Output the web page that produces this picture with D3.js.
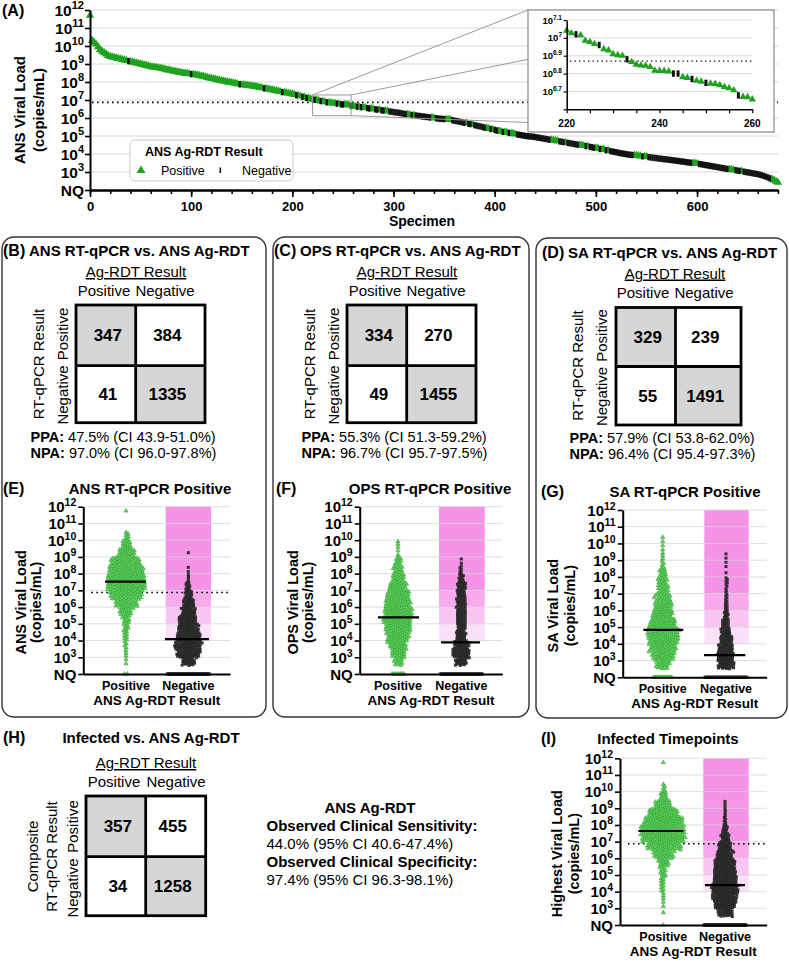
<!DOCTYPE html>
<html><head><meta charset="utf-8">
<script src="https://cdn.jsdelivr.net/npm/d3@7"></script>
<style>
body{margin:0;background:#fff}
svg{display:block}
text{font-family:"Liberation Sans",Arial,Helvetica,sans-serif;white-space:pre}
</style>
</head><body>
<svg id="c" width="789" height="962"></svg>
<script>
// ================= DATA =================
// Panel A: log10 ANS viral load of sorted specimens, sampled every 2nd specimen (0..680)
const specimenStep = 2;
const ansLoadLog = [
11.7,10.3,10.2,10.1,9.95,9.8,9.7,9.62,9.55,9.47,
9.41,9.38,9.36,9.33,9.3,9.28,9.25,9.22,9.19,9.16,
9.13,9.1,9.08,9.05,9.03,9.0,8.97,8.94,8.91,8.88,
8.85,8.83,8.81,8.8,8.78,8.76,8.73,8.71,8.68,8.66,
8.63,8.61,8.59,8.56,8.54,8.52,8.5,8.49,8.47,8.45,
8.44,8.42,8.4,8.38,8.36,8.33,8.31,8.28,8.25,8.22,
8.2,8.17,8.15,8.12,8.09,8.07,8.05,8.03,8.0,7.98,
7.96,7.94,7.92,7.89,7.87,7.85,7.84,7.82,7.81,7.79,
7.78,7.76,7.74,7.72,7.69,7.67,7.65,7.63,7.61,7.58,
7.56,7.54,7.51,7.49,7.46,7.44,7.42,7.4,7.37,7.35,
7.33,7.3,7.27,7.24,7.21,7.18,7.15,7.12,7.09,7.06,
7.04,7.02,6.99,6.97,6.94,6.91,6.9,6.87,6.85,6.84,
6.82,6.81,6.8,6.78,6.76,6.75,6.74,6.73,6.71,6.67,
6.66,6.64,6.63,6.61,6.6,6.58,6.56,6.55,6.53,6.52,
6.5,6.48,6.47,6.45,6.43,6.42,6.4,6.38,6.36,6.35,
6.33,6.31,6.3,6.28,6.26,6.24,6.22,6.2,6.18,6.17,
6.15,6.14,6.12,6.11,6.09,6.08,6.06,6.05,6.03,6.02,
6.0,5.99,5.97,5.96,5.95,5.94,5.93,5.92,5.91,5.88,
5.85,5.83,5.81,5.78,5.76,5.73,5.71,5.68,5.66,5.63,
5.6,5.58,5.55,5.53,5.5,5.47,5.44,5.41,5.39,5.36,
5.34,5.31,5.27,5.25,5.23,5.21,5.19,5.17,5.15,5.13,
5.11,5.09,5.07,5.05,5.03,5.01,4.99,4.98,4.97,4.96,
4.94,4.92,4.9,4.88,4.86,4.84,4.82,4.8,4.78,4.76,
4.74,4.72,4.7,4.68,4.66,4.64,4.62,4.6,4.58,4.56,
4.54,4.52,4.5,4.48,4.46,4.44,4.42,4.4,4.38,4.35,
4.33,4.31,4.28,4.26,4.24,4.21,4.19,4.17,4.14,4.12,
4.1,4.07,4.05,4.03,4.01,3.99,3.97,3.96,3.94,3.93,
3.92,3.9,3.89,3.87,3.86,3.84,3.83,3.81,3.8,3.78,
3.77,3.75,3.74,3.72,3.71,3.7,3.68,3.67,3.65,3.64,
3.62,3.61,3.59,3.58,3.56,3.54,3.53,3.51,3.5,3.48,
3.47,3.45,3.43,3.41,3.39,3.37,3.35,3.33,3.31,3.29,
3.27,3.25,3.23,3.21,3.19,3.17,3.15,3.13,3.11,3.1,
3.08,3.06,3.04,3.02,3.0,2.98,2.96,2.94,2.92,2.9,
2.88,2.85,2.82,2.78,2.74,2.7,2.65,2.6,2.55,2.48,
2.42];
// Ag-RDT result for each sample above (P = positive, N = negative)
const ansResult =
"PPPPPPPPPP"+"PPPPPPPPPN"+"PPPPPPPPPP"+"PPPPPPPPPP"+"PPPPPPPPPP"+
"NPPPPPPPPP"+"PPPPPPPPPP"+"PPPPNPPPPP"+"PPPPPPNPPP"+"PPPPPNPPPP"+
"PPNPPNPNPP"+"PNPPNPPNPP"+"PPNPNNPPPN"+"PPNPNPPNNP"+"PNNPNNPPNN"+
"NNNNNNNPPN"+"PNNNNNNNNP"+"PNNNNNPPPN"+"NNNNNNPNNP"+"NNNNNNPPNP"+
"NNPPNPPNPP"+"PNNNNNNNNN"+"NNNNNNNNPP"+"PPNNNPNNNN"+"NNPPPNPNNN"+
"PPNPPNPNNN"+"NNNNNNNNNP"+"PPPNPPNNNN"+"NNNNNNNNNN"+"NNNNNNNNPP"+
"PNNNNNNNNN"+"NNNNNNPPPN"+"NNPNNNNNNN"+"NNNNNNNPPP"+"P";

// Inset: specimens 220..260, every specimen
const insetFirst = 220;
const insetLoadLog = [7.041,7.026,7.02,7.015,6.985,6.977,6.966,6.96,6.937,6.93,
6.909,6.904,6.9,6.88,6.865,6.85,6.846,6.844,6.837,6.817,
6.815,6.815,6.813,6.8,6.8,6.78,6.776,6.77,6.76,6.755,
6.748,6.744,6.743,6.736,6.725,6.718,6.707,6.678,6.67,6.668,6.656];
const insetResult = "PPNPPPPNPPPPPNPPPPPPPPPNNPPNPPNPPPPPPNPPP";

const decadeExps = [3,4,5,6,7,8,9,10,11,12];
const xMajorTicksA = [0,100,200,300,400,500,600];
const insetYTicks = [6.7,6.8,6.9,7.0,7.1];
const insetYLabels = ["6.7","6.8","6.9","7","7.1"];
const insetXTicks = [220,240,260];
const thresholdLog = 6.87;
const nqLog = 2;

// Scatter panels: counts per half-decade bin (bins start at these log10 values) + NQ counts
const binStarts = [2.5,3,3.5,4,4.5,5,5.5,6,6.5,7,7.5,8,8.5,9,9.5,10,10.5,11,11.5];
const ePosCounts = [2,3,4,6,7,10,17,28,42,52,50,45,38,22,12,6,0,0,1];
const ePosNQ = 2;
const eNegCounts = [25,45,50,45,38,33,27,21,14,9,4,2,0,1,0,0,0,0,0];
const eNegNQ = 70;
const fPosCounts = [12,20,24,30,34,38,38,34,30,24,16,12,9,2,3,0,0,0,0];
const fPosNQ = 8;
const fNegCounts = [22,32,28,20,16,17,18,17,16,17,10,5,2,0,0,0,0,0,0];
const fNegNQ = 50;
const gPosCounts = [18,28,34,40,42,36,28,24,20,14,12,10,4,3,2,2,0,0,0];
const gPosNQ = 12;
const gNegCounts = [32,32,28,22,18,13,9,6,5,4,5,1,2,2,0,0,0,0,0];
const gNegNQ = 60;
const iPosCounts = [1,2,3,5,6,8,14,26,44,60,58,52,40,22,10,4,0,0,1];
const iPosNQ = 1;
const iNegCounts = [28,42,48,50,45,42,38,30,24,16,10,5,4,3,0,0,0,0,0];
const iNegNQ = 70;
const posMedians = [7.52, 5.39, 4.83, 7.64];   // E, F, G, I
const negMedians = [4.09, 3.89, 3.33, 4.39];

// 2x2 tables [TP, FN, FP, TN]
const tableB = [347,384,41,1335];
const tableC = [334,270,49,1455];
const tableD = [329,239,55,1491];
const tableH = [357,455,34,1258];
const ppaTexts = ["47.5% (CI 43.9-51.0%)","55.3% (CI 51.3-59.2%)","57.9% (CI 53.8-62.0%)"];
const npaTexts = ["97.0% (CI 96.0-97.8%)","96.7% (CI 95.7-97.5%)","96.4% (CI 95.4-97.3%)"];
const sensText = "44.0% (95% CI 40.6-47.4%)";
const specText = "97.4% (95% CI 96.3-98.1%)";

// ================= DRAWING =================
const svg = d3.select("#c");
const GREEN_A = "#1fa31f";
const GREEN_S = "#62d462";

function T(p, x, y, s, o = {}) {
  const t = p.append("text").text(s)
    .attr("font-size", o.size || 15)
    .attr("font-weight", o.bold ? "bold" : "normal")
    .attr("text-anchor", o.anchor || "start")
    .attr("fill", "#000");
  if (o.rotate) t.attr("transform", `translate(${x},${y}) rotate(-90)`);
  else t.attr("x", x).attr("y", y);
  if (o.underline) t.attr("text-decoration", "underline");
  return t;
}
function powLabel(p, x, y, exp, size, sup, dy) {
  const t = p.append("text").attr("x", x).attr("y", y).attr("text-anchor", "end")
    .attr("font-weight", "bold").attr("font-size", size);
  t.append("tspan").text("10");
  t.append("tspan").attr("font-size", sup).attr("dy", -dy).text(exp);
  return t;
}
function styleAxis(a, w) {
  a.select(".domain").attr("stroke", "#000").attr("stroke-width", w);
  a.selectAll(".tick line").attr("stroke", "#000").attr("stroke-width", w * 0.8);
}

// ---------- Panel A ----------
const gA = svg.append("g");
const xA = d3.scaleLinear().domain([0, 680]).range([90, 778]);
const yA = d3.scaleLinear().domain([2, 12]).range([190, 10]);
gA.selectAll(".ga").data(decadeExps).join("line")
  .attr("x1", 90).attr("x2", 778).attr("y1", d => yA(d)).attr("y2", d => yA(d))
  .attr("stroke", "#d9d9d9").attr("stroke-width", 1);
gA.append("line").attr("x1", 92).attr("x2", 778).attr("y1", yA(thresholdLog)).attr("y2", yA(thresholdLog))
  .attr("stroke", "#000").attr("stroke-width", 1.6).attr("stroke-dasharray", "1.6,3.4");

const ptsA = ansLoadLog.map((v, i) => ({ s: i * specimenStep, v, r: ansResult[i] }));
gA.selectAll(".pa").data(ptsA.filter(d => d.r === "P")).join("path")
  .attr("d", d3.symbol(d3.symbolTriangle, 30))
  .attr("transform", d => `translate(${xA(d.s)},${yA(d.v)})`)
  .attr("fill", GREEN_A);
gA.selectAll(".na").data(ptsA.filter(d => d.r === "N")).join("rect")
  .attr("x", d => xA(d.s) - 1.2).attr("y", d => yA(d.v) - 3.2)
  .attr("width", 2.4).attr("height", 6.4).attr("fill", "#111");

// axes A
const ayA = gA.append("g").attr("transform", "translate(90,0)")
  .call(d3.axisLeft(yA).tickValues([nqLog, ...decadeExps]).tickSize(5).tickSizeOuter(0).tickFormat(""));
styleAxis(ayA, 2);
decadeExps.forEach(e => powLabel(gA, 84, yA(e) + 5.5, e, 15.5, 11, 6.5));
T(gA, 84, yA(nqLog) + 5.5, "NQ", { size: 15.5, bold: true, anchor: "end" });
const axA = gA.append("g").attr("transform", "translate(0,190)")
  .call(d3.axisBottom(xA).tickValues(xMajorTicksA).tickSize(7).tickPadding(5).tickSizeOuter(0));
axA.attr("font-size", 13).attr("font-weight", "bold").attr("font-family", '"Liberation Sans",Arial,sans-serif');
styleAxis(axA, 2);
const axA2 = gA.append("g").attr("transform", "translate(0,190)")
  .call(d3.axisBottom(xA).tickValues(d3.range(0, 681, 20)).tickSize(4).tickFormat("").tickSizeOuter(0));
styleAxis(axA2, 2);
T(gA, 422, 226, "Specimen", { size: 14, bold: true, anchor: "middle" });
T(gA, 25, 110, "ANS Viral Load", { size: 15, bold: true, anchor: "middle", rotate: true });
T(gA, 44, 110, "(copies/mL)", { size: 15, bold: true, anchor: "middle", rotate: true });
T(gA, 2, 16, "(A)", { size: 16, bold: true });

// legend
gA.append("rect").attr("x", 130).attr("y", 140).attr("width", 163).attr("height", 41).attr("rx", 5)
  .attr("fill", "#fff").attr("stroke", "#c8c8c8");
T(gA, 145, 156, "ANS Ag-RDT Result", { size: 12.5, bold: true });
gA.append("path").attr("d", d3.symbol(d3.symbolTriangle, 34)).attr("transform", "translate(141,170.5)").attr("fill", GREEN_A);
T(gA, 161, 175, "Positive", { size: 12.5 });
gA.append("rect").attr("x", 219.5).attr("y", 167.5).attr("width", 1.6).attr("height", 5.5).attr("fill", "#111");
T(gA, 242, 175, "Negative", { size: 12.5 });

// zoom box + connectors
const zx0 = xA(220), zx1 = xA(258), zy0 = yA(7.28), zy1 = yA(6.13);
const inset = { x0: 528, y0: 10, x1: 774, y1: 132 };
[[zx0, zy0, inset.x0, inset.y0], [zx1, zy0, inset.x1, inset.y0], [zx1, zy1, inset.x1, inset.y1]].forEach(l =>
  gA.append("line").attr("x1", l[0]).attr("y1", l[1]).attr("x2", l[2]).attr("y2", l[3]).attr("stroke", "#9a9a9a").attr("stroke-width", 1));
gA.append("rect").attr("x", zx0).attr("y", zy0).attr("width", zx1 - zx0).attr("height", zy1 - zy0)
  .attr("fill", "none").attr("stroke", "#9a9a9a").attr("stroke-width", 1);

// inset
const gI = svg.append("g");
gI.append("rect").attr("x", inset.x0).attr("y", inset.y0).attr("width", inset.x1 - inset.x0).attr("height", inset.y1 - inset.y0)
  .attr("fill", "#fff").attr("stroke", "#8a8a8a").attr("stroke-width", 1.2);
const xIn = d3.scaleLinear().domain([220, 260]).range([566.7, 752.3]);
const yIn = d3.scaleLinear().domain([6.6, 7.1]).range([109.3, 20]);
gI.selectAll(".gi").data(insetYTicks).join("line")
  .attr("x1", 566.7).attr("x2", 752).attr("y1", d => yIn(d)).attr("y2", d => yIn(d))
  .attr("stroke", "#dcdcdc");
gI.append("line").attr("x1", 570).attr("x2", 752).attr("y1", yIn(thresholdLog)).attr("y2", yIn(thresholdLog))
  .attr("stroke", "#000").attr("stroke-width", 1.3).attr("stroke-dasharray", "1.3,3.2");
const ptsIn = insetLoadLog.map((v, i) => ({ s: insetFirst + i, v, r: insetResult[i] }));
gI.selectAll(".pi").data(ptsIn.filter(d => d.r === "P")).join("path")
  .attr("d", d3.symbol(d3.symbolTriangle, 24))
  .attr("transform", d => `translate(${xIn(d.s)},${yIn(d.v)})`).attr("fill", GREEN_A);
gI.selectAll(".ni").data(ptsIn.filter(d => d.r === "N")).join("rect")
  .attr("x", d => xIn(d.s) - 1.5).attr("y", d => yIn(d.v) - 3.2).attr("width", 3).attr("height", 6.4).attr("fill", "#111");
const ayI = gI.append("g").attr("transform", "translate(566.7,0)")
  .call(d3.axisLeft(yIn).tickValues([6.6, ...insetYTicks]).tickSize(3).tickFormat("").tickSizeOuter(0));
styleAxis(ayI, 1.5);
insetYTicks.forEach((t, i) => powLabel(gI, 562, yIn(t) + 3.5, insetYLabels[i], 9.5, 6.5, 4));
const axI = gI.append("g").attr("transform", "translate(0,109.3)")
  .call(d3.axisBottom(xIn).tickValues(d3.range(220, 261, 5)).tickSize(4).tickFormat("").tickSizeOuter(0));
styleAxis(axI, 1.5);
insetXTicks.forEach(t => T(gI, xIn(t), 127, String(t), { size: 10, bold: true, anchor: "middle" }));

// ---------- boxes B, C, D ----------
[[2, 237, 266, 717], [273, 237, 529, 717], [536, 238, 787, 718]].forEach(b =>
  svg.append("rect").attr("x", b[0]).attr("y", b[1]).attr("width", b[2] - b[0]).attr("height", b[3] - b[1])
    .attr("rx", 12).attr("fill", "none").attr("stroke", "#333").attr("stroke-width", 1.4));

function drawTable(g, x0, y0, xm, ym, x1, y1, nums) {
  g.append("rect").attr("x", x0).attr("y", y0).attr("width", xm - x0).attr("height", ym - y0).attr("fill", "#d6d6d6");
  g.append("rect").attr("x", xm).attr("y", ym).attr("width", x1 - xm).attr("height", y1 - ym).attr("fill", "#d6d6d6");
  g.append("rect").attr("x", x0).attr("y", y0).attr("width", x1 - x0).attr("height", y1 - y0)
    .attr("fill", "none").attr("stroke", "#000").attr("stroke-width", 2.8);
  g.append("line").attr("x1", xm).attr("x2", xm).attr("y1", y0).attr("y2", y1).attr("stroke", "#000").attr("stroke-width", 2.8);
  g.append("line").attr("x1", x0).attr("x2", x1).attr("y1", ym).attr("y2", ym).attr("stroke", "#000").attr("stroke-width", 2.8);
  const c1 = (x0 + xm) / 2 + 2, c2 = (xm + x1) / 2 - 3;
  const r1 = (y0 + ym) / 2 + 6, r2 = (ym + y1) / 2 + 6;
  [[c1, r1], [c2, r1], [c1, r2], [c2, r2]].forEach((p, i) =>
    T(g, p[0], p[1], String(nums[i]), { size: 17, bold: true, anchor: "middle" }));
}

const contPanels = [
  { dx: 0, dy: 0, letter: "(B)", title: "ANS RT-qPCR vs. ANS Ag-RDT", tab: [76, 305, 135.7, 365.7, 205, 422.7], nums: tableB },
  { dx: 271, dy: 0, letter: "(C)", title: "OPS RT-qPCR vs. ANS Ag-RDT", tab: [347, 305, 406.7, 365.7, 476, 422.7], nums: tableC },
  { dx: 539, dy: 1.5, letter: "(D)", title: "SA RT-qPCR vs. ANS Ag-RDT", tab: [616, 307.5, 675.5, 366.5, 741, 425], nums: tableD }
];
contPanels.forEach((p, k) => {
  const g = svg.append("g");
  T(g, 3 + p.dx, 256 + p.dy, p.letter, { size: 16, bold: true });
  T(g, 29 + p.dx, 256 + p.dy, p.title, { size: 15, bold: true });
  T(g, 136 + p.dx, 277 + p.dy, "Ag-RDT Result", { size: 15, anchor: "middle", underline: true });
  T(g, 104 + p.dx, 296 + p.dy, "Positive", { size: 15, anchor: "middle" });
  T(g, 165 + p.dx, 296 + p.dy, "Negative", { size: 15, anchor: "middle" });
  T(g, 44 + p.dx, 364 + p.dy, "RT-qPCR Result", { size: 15, anchor: "middle", rotate: true });
  T(g, 67.5 + p.dx, 334 + p.dy, "Positive", { size: 15, anchor: "middle", rotate: true });
  T(g, 67.5 + p.dx, 395 + p.dy, "Negative", { size: 15, anchor: "middle", rotate: true });
  drawTable(g, ...p.tab, p.nums);
  const t1 = g.append("text").attr("x", 30.5 + p.dx).attr("y", 441.5 + p.dy).attr("font-size", 14.5);
  t1.append("tspan").attr("font-weight", "bold").text("PPA:");
  t1.append("tspan").text(" " + ppaTexts[k]);
  const t2 = g.append("text").attr("x", 30.5 + p.dx).attr("y", 457.5 + p.dy).attr("font-size", 14.5);
  t2.append("tspan").attr("font-weight", "bold").text("NPA:");
  t2.append("tspan").text(" " + npaTexts[k]);
});

// ---------- Panel H ----------
const gH = svg.append("g");
T(gH, 3, 743, "(H)", { size: 16, bold: true });
T(gH, 151, 743, "Infected vs. ANS Ag-RDT", { size: 15, bold: true, anchor: "middle" });
T(gH, 146, 768, "Ag-RDT Result", { size: 15, anchor: "middle", underline: true });
T(gH, 114, 786.5, "Positive", { size: 15, anchor: "middle" });
T(gH, 176, 786.5, "Negative", { size: 15, anchor: "middle" });
T(gH, 38, 856.5, "Composite", { size: 15, anchor: "middle", rotate: true });
T(gH, 57, 856.5, "RT-qPCR Result", { size: 15, anchor: "middle", rotate: true });
T(gH, 77.5, 826.5, "Positive", { size: 15, anchor: "middle", rotate: true });
T(gH, 77.5, 888, "Negative", { size: 15, anchor: "middle", rotate: true });
drawTable(gH, 86, 796, 145.7, 856.7, 205.7, 915.7, tableH);
T(gH, 370, 812.5, "ANS Ag-RDT", { size: 15, bold: true, anchor: "middle" });
T(gH, 266.5, 830.5, "Observed Clinical Sensitivity:", { size: 15, bold: true });
T(gH, 266.5, 849, sensText, { size: 15 });
T(gH, 266.5, 866.5, "Observed Clinical Specificity:", { size: 15, bold: true });
T(gH, 266.5, 885, specText, { size: 15 });

// ---------- Scatter panels E, F, G, I ----------
function binValues(counts) {
  const vals = [];
  counts.forEach((n, k) => { for (let i = 0; i < n; i++) vals.push(binStarts[k] + (i + 0.5) * 0.5 / n); });
  return vals;
}
function swarmX(ys, d) {
  const placed = [], out = [];
  ys.forEach((y, idx) => {
    const iv = [];
    for (let j = placed.length - 1; j >= 0; j--) {
      const dy = y - placed[j].y;
      if (dy >= d) break;
      const h = Math.sqrt(d * d - dy * dy);
      iv.push([placed[j].x - h, placed[j].x + h]);
    }
    const cands = [0];
    iv.forEach(([a, b]) => cands.push(a, b));
    cands.sort((p, q) => Math.abs(p) - Math.abs(q) || (idx % 2 ? p - q : q - p));
    let x = 0;
    for (const c of cands) { if (!iv.some(([a, b]) => c > a + 1e-6 && c < b - 1e-6)) { x = c; break; } }
    placed.push({ x, y }); out.push(x);
  });
  return out;
}
const bands = [[12, 7, "#f594e7"], [7, 6, "#f7abed"], [6, 5, "#f9c6f3"], [5, 4, "#fce0f9"]];

const scatterPanels = [
  { letter: "(E)", lx: 3, title: "ANS RT-qPCR Positive", tx: 150, ty: 494, axisX: 83.3, yTop: 506.7, yNQ: 674, posX: 126, negX: 188.3, xEnd: 230,
    r0: 165.7, r1: 211, mp: [105, 146], mn: [165, 209], t1: 19.5, t2: 34.5, ylab: "ANS Viral Load", dotted: true,
    pos: ePosCounts, posNQ: ePosNQ, neg: eNegCounts, negNQ: eNegNQ },
  { letter: "(F)", lx: 276, title: "OPS RT-qPCR Positive", tx: 430, ty: 494, axisX: 359.7, yTop: 506.7, yNQ: 674, posX: 398, negX: 461.3, xEnd: 502.3,
    r0: 439, r1: 484.7, mp: [378, 419], mn: [441, 480], t1: 292, t2: 307, ylab: "OPS Viral Load", dotted: false,
    pos: fPosCounts, posNQ: fPosNQ, neg: fNegCounts, negNQ: fNegNQ },
  { letter: "(G)", lx: 541, title: "SA RT-qPCR Positive", tx: 685, ty: 497, axisX: 622.7, yTop: 510, yNQ: 677.3, posX: 662.7, negX: 726, xEnd: 766.7,
    r0: 704.3, r1: 748.7, mp: [643.3, 683.3], mn: [704, 745.3], t1: 552, t2: 569, ylab: "SA Viral Load", dotted: false,
    pos: gPosCounts, posNQ: gPosNQ, neg: gNegCounts, negNQ: gNegNQ },
  { letter: "(I)", lx: 541, title: "Infected Timepoints", tx: 668, ty: 744, axisX: 620, yTop: 758.3, yNQ: 925, posX: 663.3, negX: 725, xEnd: 766.7,
    r0: 703.3, r1: 748.7, mp: [638.3, 683.3], mn: [705, 745], t1: 556, t2: 573, ylab: "Highest Viral Load", dotted: true,
    pos: iPosCounts, posNQ: iPosNQ, neg: iNegCounts, negNQ: iNegNQ }
];

scatterPanels.forEach((p, k) => {
  const g = svg.append("g");
  const y = d3.scaleLinear().domain([nqLog, 12]).range([p.yNQ, p.yTop]);
  const x = d3.scaleLinear().domain([0, 1]).range([p.axisX, p.xEnd]);
  T(g, p.lx, p.ty, p.letter, { size: 16, bold: true });
  T(g, p.tx, p.ty, p.title, { size: 15, bold: true, anchor: "middle" });
  bands.forEach(b => g.append("rect").attr("x", p.r0).attr("width", p.r1 - p.r0)
    .attr("y", y(b[0])).attr("height", y(b[1]) - y(b[0])).attr("fill", b[2]));
  g.selectAll(".gl").data(decadeExps).join("line")
    .attr("x1", p.axisX).attr("x2", p.xEnd).attr("y1", d => y(d)).attr("y2", d => y(d))
    .attr("stroke", "#d4d4d4").attr("stroke-opacity", 0.75);
  if (p.dotted) g.append("line").attr("x1", p.axisX + 8).attr("x2", p.xEnd - 2).attr("y1", y(thresholdLog)).attr("y2", y(thresholdLog))
    .attr("stroke", "#000").attr("stroke-width", 1.6).attr("stroke-dasharray", "1.6,3.4");

  // negative group (black squares)
  const nv = binValues(p.neg).sort((a, b) => b - a);
  const nys = nv.map(v => y(v));
  const nxs = swarmX(nys, 2.1);
  const nq = d3.range(p.negNQ).map(i => ({ v: nqLog, off: p.negNQ > 1 ? (i / (p.negNQ - 1) - 0.5) * Math.min(p.negNQ * 1.5, 42) : 0 }));
  const negPts = nv.map((v, i) => ({ v, off: nxs[i] })).concat(nq);
  g.selectAll(".np").data(negPts).join("rect")
    .attr("x", d => p.negX + d.off - 1.5).attr("y", d => y(d.v) - 1.5)
    .attr("width", 3).attr("height", 3).attr("fill", "#262626").attr("fill-opacity", 0.92);

  // positive group (green triangles)
  const pv = binValues(p.pos).sort((a, b) => b - a);
  const pys = pv.map(v => y(v));
  const pxs = swarmX(pys, 2.5);
  const pq = d3.range(p.posNQ).map(i => ({ v: nqLog, off: p.posNQ > 1 ? (i / (p.posNQ - 1) - 0.5) * Math.min(p.posNQ * 1.5, 42) : 0 }));
  const posPts = pv.map((v, i) => ({ v, off: pxs[i] })).concat(pq);
  g.selectAll(".pp").data(posPts).join("path")
    .attr("d", d3.symbol(d3.symbolTriangle, 8))
    .attr("transform", d => `translate(${p.posX + d.off},${y(d.v)})`)
    .attr("fill", GREEN_S).attr("stroke", "#2a9a2a").attr("stroke-width", 0.5);

  // medians
  g.append("line").attr("x1", p.mp[0]).attr("x2", p.mp[1]).attr("y1", y(posMedians[k])).attr("y2", y(posMedians[k]))
    .attr("stroke", "#000").attr("stroke-width", 2.2);
  g.append("line").attr("x1", p.mn[0]).attr("x2", p.mn[1]).attr("y1", y(negMedians[k])).attr("y2", y(negMedians[k]))
    .attr("stroke", "#000").attr("stroke-width", 2.2);

  // axes
  const ay = g.append("g").attr("transform", `translate(${p.axisX},0)`)
    .call(d3.axisLeft(y).tickValues([nqLog, ...decadeExps]).tickSize(5).tickSizeOuter(0).tickFormat(""));
  styleAxis(ay, 2);
  const ax = g.append("g").attr("transform", `translate(0,${p.yNQ})`)
    .call(d3.axisBottom(x).tickValues([]).tickSizeOuter(0));
  styleAxis(ax, 2);
  decadeExps.forEach(e => powLabel(g, p.axisX - 7, y(e) + 5.5, e, 15, 10.5, 6));
  T(g, p.axisX - 7, p.yNQ + 5.5, "NQ", { size: 15, bold: true, anchor: "end" });
  T(g, p.posX, p.yNQ + 16, "Positive", { size: 12.5, bold: true, anchor: "middle" });
  T(g, p.negX, p.yNQ + 16, "Negative", { size: 12.5, bold: true, anchor: "middle" });
  T(g, (p.axisX + p.xEnd) / 2, p.yNQ + 31, "ANS Ag-RDT Result", { size: 13.5, bold: true, anchor: "middle" });
  const mid = (p.yTop + p.yNQ) / 2 + 12;
  T(g, p.t1 + 6, mid, p.ylab, { size: 14.5, bold: true, anchor: "middle", rotate: true });
  T(g, p.t2 + 6, mid, "(copies/mL)", { size: 14.5, bold: true, anchor: "middle", rotate: true });
});
</script>
</body></html>
